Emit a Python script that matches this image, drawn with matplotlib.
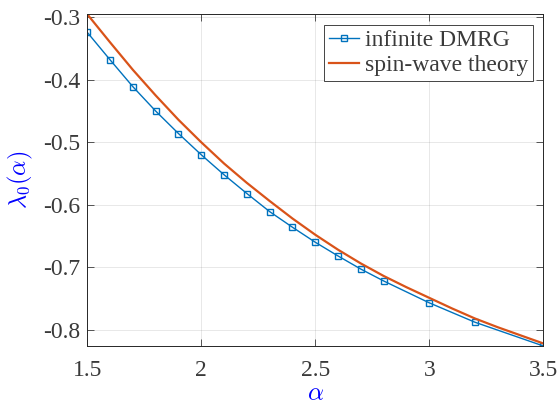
import matplotlib
matplotlib.use("Agg")
import matplotlib.pyplot as plt

plt.rcParams['font.family'] = ['Liberation Serif', 'DejaVu Serif']
plt.rcParams['mathtext.fontset'] = 'cm'
plt.rcParams['axes.unicode_minus'] = False

# infinite DMRG
alpha_dmrg = [1.5, 1.6, 1.7, 1.8, 1.9, 2.0, 2.1, 2.2, 2.3, 2.4, 2.5,
              2.6, 2.7, 2.8, 3.0, 3.2, 3.5]
lam_dmrg = [-0.324, -0.368, -0.411, -0.450, -0.486, -0.520, -0.552, -0.582,
            -0.611, -0.636, -0.660, -0.682, -0.703, -0.722, -0.757, -0.788,
            -0.826]

# spin-wave theory
alpha_sw = [1.5, 1.6, 1.7, 1.8, 1.9, 2.0, 2.1, 2.2, 2.3, 2.4, 2.5,
            2.6, 2.7, 2.8, 2.9, 3.0, 3.1, 3.2, 3.3, 3.4, 3.5]
lam_sw = [-0.295, -0.340, -0.384, -0.425, -0.464, -0.500, -0.534, -0.565,
          -0.594, -0.622, -0.648, -0.672, -0.694, -0.714, -0.732, -0.749,
          -0.766, -0.782, -0.796, -0.809, -0.822]

xticks = [1.5, 2.0, 2.5, 3.0, 3.5]
xticklabels = ['1.5', '2', '2.5', '3', '3.5']
yticks = [-0.8, -0.7, -0.6, -0.5, -0.4, -0.3]
yticklabels = ['-0.8', '-0.7', '-0.6', '-0.5', '-0.4', '-0.3']

fig = plt.figure(figsize=(5.57, 4.07), dpi=100)
ax = fig.add_axes([0.1567, 0.150, 0.8187, 0.815])

ax.plot(alpha_dmrg, lam_dmrg, color='#0072BD', lw=1.0, marker='s', ms=4.5,
        mfc='none', mew=1.0, label='infinite DMRG')
ax.plot(alpha_sw, lam_sw, color='#D95319', lw=1.6, label='spin-wave theory')

ax.set_xlim(min(alpha_sw), max(alpha_sw))
ax.set_ylim(min(lam_dmrg + lam_sw), max(lam_dmrg + lam_sw))
ax.set_xticks(xticks)
ax.set_xticklabels(xticklabels)
ax.set_yticks(yticks)
ax.set_yticklabels(yticklabels)

ax.grid(True, color='#262626', alpha=0.12, lw=0.6)
ax.tick_params(direction='in', top=True, right=True, labelsize=17,
               colors='#3a3a3a', length=5, width=0.6)
ax.tick_params(axis='x', pad=10)
ax.tick_params(axis='y', pad=5)
for sp in ax.spines.values():
    sp.set_color('#262626')
    sp.set_linewidth(0.7)

ax.set_xlabel(r'$\alpha$', color='blue', fontsize=18, labelpad=2)
ax.set_ylabel(r'$\lambda_0(\alpha)$', color='blue', fontsize=17.5, labelpad=6)

leg = ax.legend(loc='upper right', fontsize=17, fancybox=False,
                edgecolor='#262626', framealpha=1, borderpad=0.2,
                handlelength=1.25, handletextpad=0.25, labelspacing=0.15,
                borderaxespad=0.45)
leg.get_frame().set_linewidth(0.6)
for t in leg.get_texts():
    t.set_color('#3a3a3a')

fig.savefig('out.png', dpi=100)
